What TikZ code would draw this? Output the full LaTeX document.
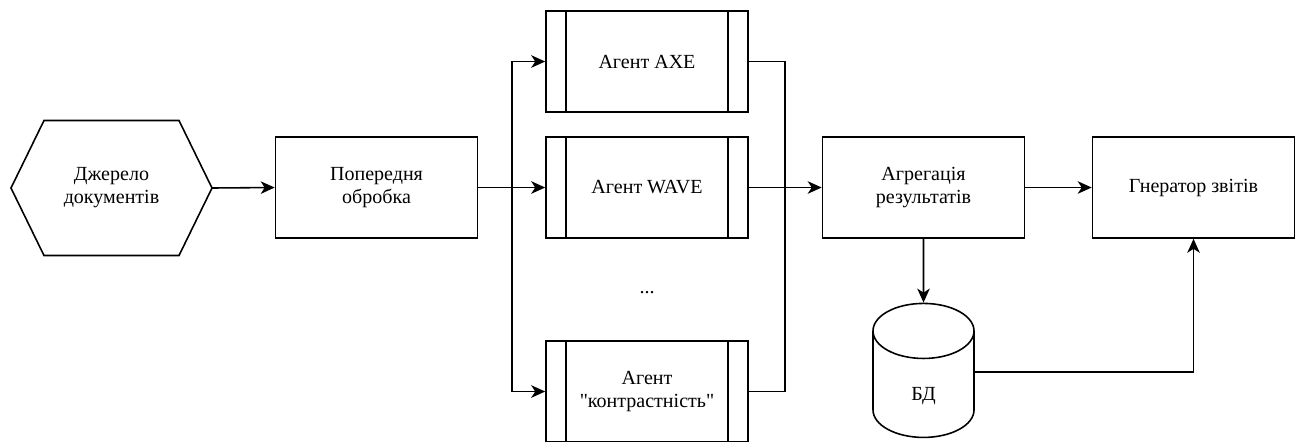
\documentclass[tikz,border=0pt]{standalone}
\usepackage{fontspec}
\setmainfont{Liberation Serif}
\newfontfamily\diagserif{Liberation Serif}
\usetikzlibrary{arrows.meta, positioning, calc, shapes.geometric}
\newcommand{\diagfont}{\diagserif\fontsize{11.4}{13.1}\selectfont}
\tikzset{
    box/.style={
        rectangle, draw=black, line width=0.9pt, minimum width=4.04cm,
        minimum height=2.02cm, align=center, font=\diagfont
    },
    agent/.style={
        box, path picture={
            \draw[line width=0.9pt] ([xshift=0.4cm]path picture bounding box.north west) -- ([xshift=0.4cm]path picture bounding box.south west);
            \draw[line width=0.9pt] ([xshift=-0.4cm]path picture bounding box.north east) -- ([xshift=-0.4cm]path picture bounding box.south east);
        }
    },
    hexbox/.style={
        rectangle, minimum width=4.02cm, minimum height=2.7cm, inner sep=0pt,
        outer sep=0pt, align=center, font=\diagfont
    },
    database/.style={
        cylinder, shape border rotate=90, draw=black, line width=0.9pt,
        minimum width=2.02cm, minimum height=2.68cm, aspect=4.7
    },
    line/.style={line width=0.9pt, draw=black},
    arrow/.style={line, -{Stealth[length=0.28cm, width=0.25cm, inset=0.08cm]}}
}
\begin{document}
\begin{tikzpicture}[x=1cm, y=1cm]
\useasboundingbox (0,0) rectangle (26.02,-8.82);

% === SOURCE AND PREPROCESSING ===
\node (src) [hexbox] at (2.23,-3.76) {Джерело\\документів};
\draw [line] (src.west) -- ([xshift=0.66cm]src.north west) -- ([xshift=-0.66cm]src.north east)
    -- (src.east) -- ([xshift=-0.66cm]src.south east) -- ([xshift=0.66cm]src.south west) -- cycle;
\node (pre) [box] at (7.53,-3.75) {Попередня\\обробка};

% === AGENTS ===
\node (axe)   [agent] at (12.94,-1.23) {Агент AXE};
\node (wave)  [agent] at (12.94,-3.75) {Агент WAVE};
\node (dots)  [font=\diagfont] at (12.94,-5.86) {...};
\node (contr) [agent] at (12.94,-7.83) {Агент\\{\char34}контрастність{\char34}};

% === AGGREGATION AND REPORTS ===
\node (agg) [box] at (18.47,-3.75) {Агрегація\\результатів};
\node (gen) [box] at (23.87,-3.75) {Гнератор звітів};
\node (db)  [database, label={[font=\diagfont, yshift=-0.1cm]center:БД}] at (18.47,-7.82) {};

% === ARROWS ===
\coordinate (split) at ($(pre.east)!0.5!(wave.west)$);
\coordinate (merge) at ($(wave.east)!0.5!(agg.west)$);

\draw [arrow] (src.east) -- (pre.west);
\draw [arrow] (pre.east) -- (wave.west);
\draw [arrow] (split) |- (axe.west);
\draw [arrow] (split) |- (contr.west);

\draw [line] (axe.east) -| (merge);
\draw [line] (contr.east) -| (merge);
\draw [arrow] (wave.east) -- (agg.west);

\draw [arrow] (agg.east) -- (gen.west);
\draw [arrow] (agg.south) -- (db.north);
\draw [arrow] ([yshift=0.38cm]db.east) -| (gen.south);

\end{tikzpicture}
\end{document}
